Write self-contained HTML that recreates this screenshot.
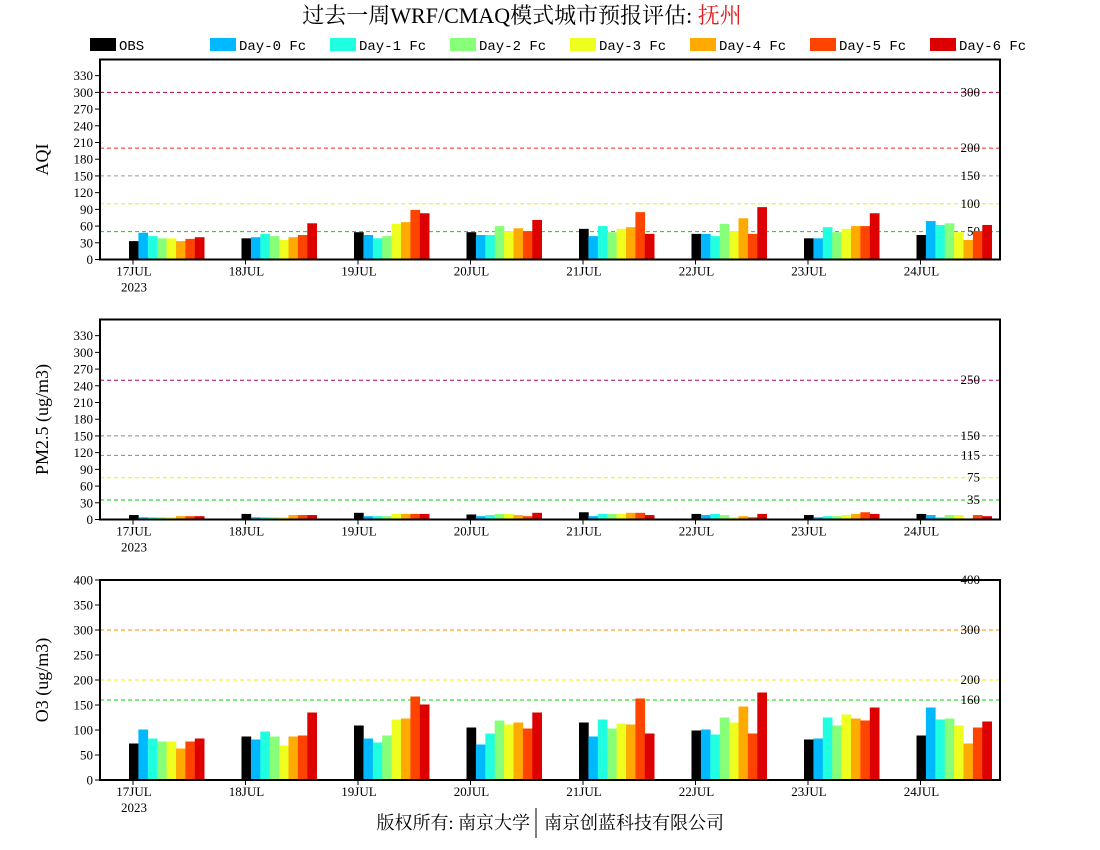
<!DOCTYPE html>
<html><head><meta charset="utf-8"><style>
body{margin:0;background:#fff;}
svg{display:block;}
text{font-family:"Liberation Serif","Noto Serif CJK SC",serif;}
</style></head><body>
<svg id="chart" width="1100" height="850" xmlns="http://www.w3.org/2000/svg">
<text x="522" y="23" text-anchor="middle" font-size="22">过去一周WRF/CMAQ模式城市预报评估: <tspan fill="#e02020">抚州</tspan></text>
<g id="legend"></g>
<g id="panels"></g>
<text x="530" y="829" text-anchor="end" font-size="18">版权所有: 南京大学</text>
<line x1="536" y1="808" x2="536" y2="838" stroke="#000" stroke-width="1"/>
<text x="544" y="829" text-anchor="start" font-size="18">南京创蓝科技有限公司</text>
</svg>
<script>
const categories=["17JUL","18JUL","19JUL","20JUL","21JUL","22JUL","23JUL","24JUL"];
const seriesNames=["OBS","Day-0 Fc","Day-1 Fc","Day-2 Fc","Day-3 Fc","Day-4 Fc","Day-5 Fc","Day-6 Fc"];
const seriesColors=["#000000","#00b8ff","#20ffe0","#88ff78","#eeff20","#ffaa00","#ff4400","#dd0000"];
const aqiValues=[[33,48,42,38,38,33,37,40],[38,40,46,42,35,40,44,65],[49,44,38,42,64,67,89,83],[49,44,44,60,51,56,51,71],[55,42,60,49,55,58,85,46],[46,46,42,64,51,74,46,94],[38,38,58,49,55,60,60,83],[44,69,62,65,49,35,51,62]];
const pmValues=[[8,4,4,4,4,6,6,6],[10,4,4,4,4,8,8,8],[12,6,6,6,10,10,10,10],[9,6,8,10,10,8,6,12],[13,6,10,10,10,12,12,8],[10,8,10,8,4,6,4,10],[8,4,6,6,8,10,13,10],[10,8,4,8,8,2,8,6]];
const o3Values=[[73,101,83,77,77,63,77,83],[87,81,97,87,69,87,89,135],[109,83,75,89,121,123,167,151],[105,71,93,119,111,115,103,135],[115,87,121,103,113,111,163,93],[99,101,91,125,115,147,93,175],[81,83,125,109,131,123,119,145],[89,145,121,123,109,73,105,117]];
const aqiTicks=[0,30,60,90,120,150,180,210,240,270,300,330];
const pmTicks=[0,30,60,90,120,150,180,210,240,270,300,330];
const o3Ticks=[0,50,100,150,200,250,300,350,400];
const aqiLevels=[300,200,150,100,50];
const aqiLevelColors=["#b00030","#ff2020","#999999","#eeee00","#00dd00"];
const pmLevels=[250,150,115,75,35];
const pmLevelColors=["#b00060","#888888","#888888","#eeee00","#00cc00"];
const o3Levels=[400,300,200,160];
const o3LevelColors=["#ff0000","#ff8800","#eeee00","#00dd00"];

const NS="http://www.w3.org/2000/svg";
const svg=document.getElementById('chart');
function mk(tag,attrs,parent){const e=document.createElementNS(NS,tag);for(const k in attrs)e.setAttribute(k,attrs[k]);(parent||svg).appendChild(e);return e;}

const lg=document.getElementById('legend');
seriesNames.forEach((n,i)=>{
  const x=90+120*i;
  const r=mk('rect',{x:x,y:38,width:26,height:13,fill:seriesColors[i]},lg);
  
  
  const t=mk('text',{x:x+29,y:50,style:'font-family:"Liberation Mono",monospace;font-size:14px'},lg);
  t.textContent=n;
  
  
});

const X0=100,X1=1000,groupW=112.5,tick0=133,barW=9.4;
function xTick(i){return tick0+groupW*i;}
function xBar(i,s){return xTick(i)-4+barW*s;}

function panel(cfg){
  const g=mk('g',{},document.getElementById('panels'));
  
  
  const top=cfg.top,bot=cfg.bot;
  const y=v=>bot-(v/cfg.max)*(bot-top);
  cfg.levels.forEach((L,i)=>{
    const ly=y(L);
    const l=mk('line',{x1:X0,y1:ly,x2:X1,y2:ly,stroke:cfg.levelColors[i],'stroke-width':1,'stroke-dasharray':'4,3'},g);
    
    
    const t=mk('text',{x:980,y:ly+4,'text-anchor':'end','font-size':13,fill:'#000'},g);
    t.textContent=L;
    
    
  });
  cfg.values.forEach((day,i)=>{
    day.forEach((v,s)=>{
      const r=mk('rect',{x:xBar(i,s),y:y(v),width:barW+0.3,height:bot-y(v),fill:seriesColors[s]},g);
      
      
    });
  });
  mk('rect',{x:X0,y:top,width:X1-X0,height:bot-top,fill:'none',stroke:'#000','stroke-width':2},g);
  cfg.ticks.forEach(tv=>{
    const ty=y(tv);
    mk('line',{x1:X0-5,y1:ty,x2:X0,y2:ty,stroke:'#000','stroke-width':1},g);
    const t=mk('text',{x:X0-7,y:ty+4.5,'text-anchor':'end','font-size':13},g);
    t.textContent=tv;
    
    
  });
  categories.forEach((c,i)=>{
    const tx=xTick(i);
    mk('line',{x1:tx,y1:bot,x2:tx,y2:bot+5,stroke:'#000','stroke-width':1},g);
    const t=mk('text',{x:tx+1,y:bot+16,'text-anchor':'middle','font-size':13},g);
    t.textContent=c;
    
    
  });
  const yt=mk('text',{x:xTick(0)+1,y:bot+32,'text-anchor':'middle','font-size':13},g);
  yt.textContent='2023';
  
  
  const cy=(top+bot)/2;
  const t=mk('text',{x:48,y:cy,'text-anchor':'middle','font-size':18,transform:'rotate(-90 48 '+cy+')'},g);
  t.textContent=cfg.title;
  
  
}
panel({name:'aqi',top:59.5,bot:259.5,max:359,values:aqiValues,ticks:aqiTicks,levels:aqiLevels,levelColors:aqiLevelColors,title:'AQI'});
panel({name:'pm25',top:319.5,bot:519.5,max:359,values:pmValues,ticks:pmTicks,levels:pmLevels,levelColors:pmLevelColors,title:'PM2.5 (ug/m3)'});
panel({name:'o3',top:580,bot:780,max:400,values:o3Values,ticks:o3Ticks,levels:o3Levels,levelColors:o3LevelColors,title:'O3 (ug/m3)'});
</script>
</body></html>
